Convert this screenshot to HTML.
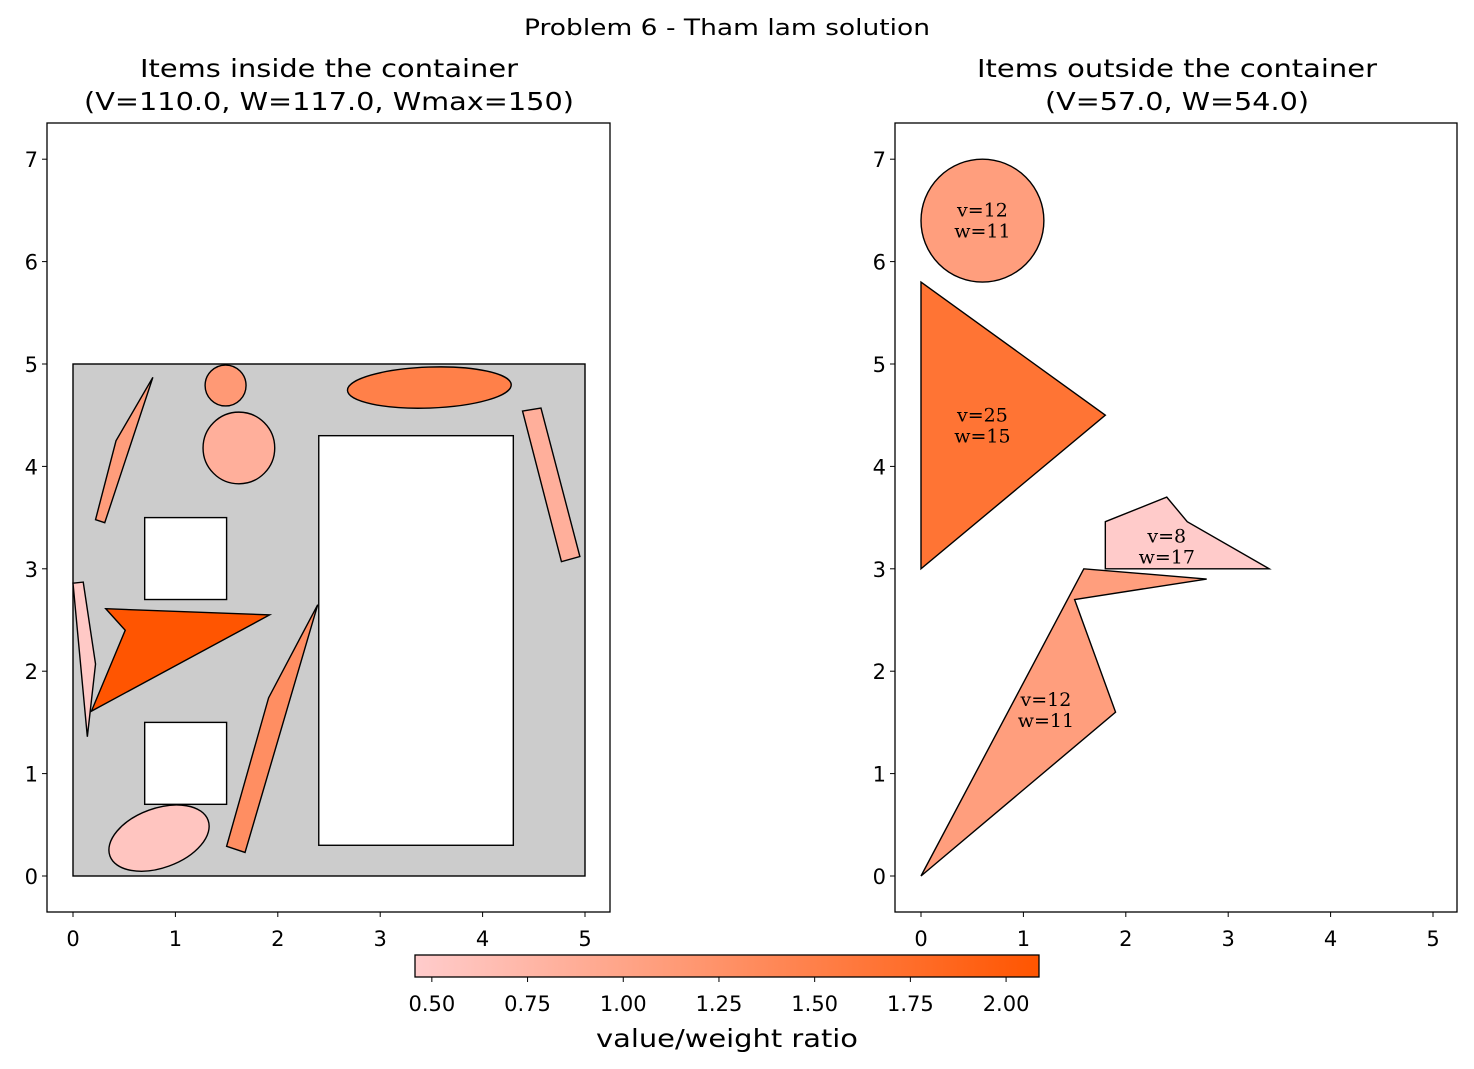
<!DOCTYPE html>
<html><head><meta charset="utf-8"><style>
body{margin:0;background:#fff}
svg{display:block;font-family:"DejaVu Sans","Liberation Sans",sans-serif}
</style></head><body>
<svg id="chart" width="1474" height="1069" viewBox="0 0 1474 1069" xmlns="http://www.w3.org/2000/svg">
<text x="727" y="35" font-size="22" text-anchor="middle" textLength="406" lengthAdjust="spacingAndGlyphs">Problem 6 - Tham lam solution</text>
<text x="329" y="77" font-size="25" text-anchor="middle" textLength="378" lengthAdjust="spacingAndGlyphs">Items inside the container</text>
<text x="329" y="110" font-size="25" text-anchor="middle" textLength="490" lengthAdjust="spacingAndGlyphs">(V=110.0, W=117.0, Wmax=150)</text>
<text x="1177" y="77" font-size="25" text-anchor="middle" textLength="400" lengthAdjust="spacingAndGlyphs">Items outside the container</text>
<text x="1177" y="110" font-size="25" text-anchor="middle" textLength="264" lengthAdjust="spacingAndGlyphs">(V=57.0, W=54.0)</text>
<g id="left"></g>
<g id="right"></g>
<g id="cbar"></g>
<text x="727" y="1047" font-size="25" text-anchor="middle" textLength="262" lengthAdjust="spacingAndGlyphs">value/weight ratio</text>
</svg>
<script>
const NS="http://www.w3.org/2000/svg";
const ticksX=[0,1,2,3,4,5];
const ticksY=[0,1,2,3,4,5,6,7];
const cbTicks=[0.5,0.75,1.0,1.25,1.5,1.75,2.0];
const cbRange=[0.456,2.086];
const container=[0,0,5,5];
const obstacles=[[0.7,2.7,0.8,0.8],[0.7,0.7,0.8,0.8],[2.4,0.3,1.9,4.0]];
const leftPolys=[
 {pts:[[0.22,3.48],[0.42,4.25],[0.78,4.87],[0.31,3.45]],r:1.1},
 {pts:[[4.39,4.54],[4.57,4.57],[4.95,3.12],[4.77,3.07]],r:0.85},
 {pts:[[0,2.86],[0.1,2.87],[0.22,2.07],[0.14,1.36]],r:0.5},
 {pts:[[0.32,2.61],[1.92,2.55],[0.18,1.61],[0.51,2.4]],r:2.08},
 {pts:[[1.5,0.29],[1.91,1.74],[2.39,2.65],[1.68,0.23]],r:1.3}];
const leftEllipses=[
 {c:[1.49,4.79],rx:0.2,ry:0.2,a:0,r:1.15},
 {c:[1.62,4.18],rx:0.35,ry:0.35,a:0,r:0.85},
 {c:[3.48,4.77],rx:0.8,ry:0.2,a:-2,r:1.5},
 {c:[0.84,0.37],rx:0.51,ry:0.29,a:-20,r:0.55}];
const rightPolys=[
 {pts:[[0,5.8],[1.8,4.5],[0,3.0]],r:25/15,lbl:["v=25","w=15"],lp:[0.6,4.4]},
 {pts:[[1.8,3.46],[2.4,3.7],[2.6,3.46],[3.4,3.0],[1.8,3.0]],r:8/17,lbl:["v=8","w=17"],lp:[2.4,3.22]},
 {pts:[[0,0],[1.59,3.0],[2.79,2.9],[1.5,2.7],[1.9,1.6]],r:12/11,lbl:["v=12","w=11"],lp:[1.22,1.62]}];
const rightEllipses=[{c:[0.6,6.4],rx:0.6,ry:0.6,a:0,r:12/11,lbl:["v=12","w=11"]}];

function col(r){let t=(r-cbRange[0])/(cbRange[1]-cbRange[0]);t=Math.max(0,Math.min(1,t));
 return `rgb(255,${Math.round(204-t*119)},${Math.round(204-t*204)})`;}
function el(p,tag,a,txt){const e=document.createElementNS(NS,tag);for(const k in a)e.setAttribute(k,a[k]);if(txt!==undefined)e.textContent=txt;p.appendChild(e);return e;}
function axes(g,x0,box){
 const S=102.4,oy=876;
 const X=v=>x0+v*S,Y=v=>oy-v*S;
 el(g,"rect",{x:box[0],y:123,width:box[1]-box[0],height:789,fill:"#fff"});
 ticksX.forEach(t=>{const e=el(g,"line",{x1:X(t),x2:X(t),y1:912,y2:917,stroke:"#000"});
  const l=el(g,"text",{x:X(t),y:946,"font-size":21,"text-anchor":"middle"},String(t));});
 ticksY.forEach(t=>{el(g,"line",{x1:box[0]-5,x2:box[0],y1:Y(t),y2:Y(t),stroke:"#000"});
  const l=el(g,"text",{x:box[0]-9,y:Y(t)+8,"font-size":21,"text-anchor":"end"},String(t));});
 return {X,Y,S};
}
function poly(g,ax,p){const e=el(g,"polygon",{points:p.pts.map(q=>ax.X(q[0])+","+ax.Y(q[1])).join(" "),fill:col(p.r),stroke:"#000","stroke-width":1.4});
 }
function ell(g,ax,c){const cx=ax.X(c.c[0]),cy=ax.Y(c.c[1]);const e=el(g,"ellipse",{cx,cy,rx:c.rx*ax.S,ry:c.ry*ax.S,transform:`rotate(${c.a} ${cx} ${cy})`,fill:col(c.r),stroke:"#000","stroke-width":1.4});
 }
function lbl(g,ax,p,l){const x=ax.X(p[0]),y=ax.Y(p[1]);
 const t=el(g,"text",{x,y:y-4,"font-size":19,"text-anchor":"middle","font-family":"DejaVu Serif,Liberation Serif,serif"},l[0]);
 const t2=el(g,"text",{x,y:y+17,"font-size":19,"text-anchor":"middle","font-family":"DejaVu Serif,Liberation Serif,serif"},l[1]);}

const L=document.getElementById("left"),la=axes(L,73,[47,610]);
const cr=el(L,"rect",{x:la.X(container[0]),y:la.Y(container[3]),width:container[2]*la.S,height:container[3]*la.S,fill:"#cccccc",stroke:"#000","stroke-width":1.4});

obstacles.forEach(o=>{const e=el(L,"rect",{x:la.X(o[0]),y:la.Y(o[1]+o[3]),width:o[2]*la.S,height:o[3]*la.S,fill:"#fff",stroke:"#000","stroke-width":1.4});});
leftPolys.forEach(p=>poly(L,la,p));leftEllipses.forEach(c=>ell(L,la,c));
el(L,"rect",{x:47,y:123,width:563,height:789,fill:"none",stroke:"#000","stroke-width":1.3});

const R=document.getElementById("right"),ra=axes(R,921,[895,1457]);
rightEllipses.forEach(c=>{ell(R,ra,c);lbl(R,ra,c.c,c.lbl);});
rightPolys.forEach(p=>{poly(R,ra,p);lbl(R,ra,p.lp,p.lbl);});
el(R,"rect",{x:895,y:123,width:562,height:789,fill:"none",stroke:"#000","stroke-width":1.3});

const C=document.getElementById("cbar");
const defs=el(C,"defs",{});const gr=el(defs,"linearGradient",{id:"cg",x1:0,x2:1,y1:0,y2:0});
el(gr,"stop",{offset:0,"stop-color":col(cbRange[0])});el(gr,"stop",{offset:1,"stop-color":col(cbRange[1])});
el(C,"rect",{x:415,y:955,width:624,height:22,fill:"url(#cg)",stroke:"#000","stroke-width":1.3});
const CX=v=>415+(v-cbRange[0])/(cbRange[1]-cbRange[0])*624;
cbTicks.forEach(t=>{el(C,"line",{x1:CX(t),x2:CX(t),y1:977,y2:982,stroke:"#000"});
 const l=el(C,"text",{x:CX(t),y:1011,"font-size":21,"text-anchor":"middle"},t.toFixed(2));});
</script>
</body></html>
